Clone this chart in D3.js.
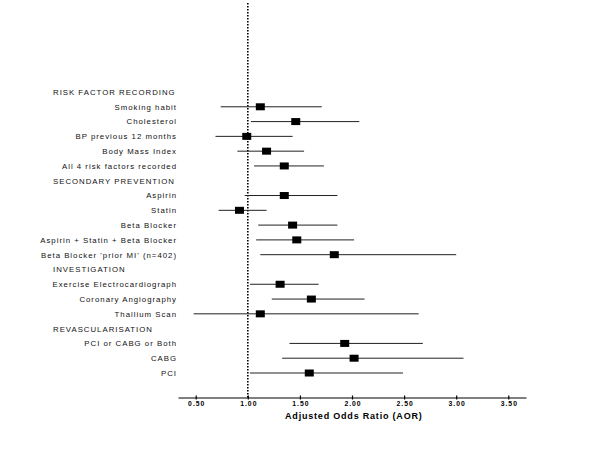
<!DOCTYPE html>
<html>
<head>
<meta charset="utf-8">
<script src="https://cdn.jsdelivr.net/npm/d3@7"></script>
<style>
  body { margin: 0; background: #fff; }
  text { font-family: "Liberation Sans", Arial, sans-serif; fill: #000; }
</style>
</head>
<body>
<svg id="chart" width="600" height="450"></svg>
<script>
// rows top to bottom; headers have no estimate
var labels = ['RISK FACTOR RECORDING', 'Smoking habit', 'Cholesterol', 'BP previous 12 months',
  'Body Mass Index', 'All 4 risk factors recorded', 'SECONDARY PREVENTION', 'Aspirin', 'Statin',
  'Beta Blocker', 'Aspirin + Statin + Beta Blocker', "Beta Blocker 'prior MI' (n=402)",
  'INVESTIGATION', 'Exercise Electrocardiograph', 'Coronary Angiography', 'Thallium Scan',
  'REVASCULARISATION', 'PCI or CABG or Both', 'CABG', 'PCI'];
var isHeader = [1,0,0,0,0,0,1,0,0,0,0,0,1,0,0,0,1,0,0,0];
var aor   = [null, 1.12, 1.46, 0.99, 1.18, 1.35, null, 1.35, 0.92, 1.43, 1.47, 1.83, null, 1.31, 1.61, 1.12, null, 1.93, 2.02, 1.59];
var lower = [null, 0.74, 1.03, 0.69, 0.90, 1.06, null, 0.97, 0.72, 1.10, 1.08, 1.12, null, 1.02, 1.23, 0.48, null, 1.40, 1.33, 1.02];
var upper = [null, 1.71, 2.07, 1.43, 1.54, 1.73, null, 1.86, 1.18, 1.86, 2.02, 3.00, null, 1.68, 2.12, 2.64, null, 2.68, 3.07, 2.49];
var ticks = [0.5, 1.0, 1.5, 2.0, 2.5, 3.0, 3.5];

var svg = d3.select('#chart');

var x = d3.scaleLinear().domain([0.33, 3.67]).range([178, 526]);
var y = d3.scalePoint().domain(d3.range(labels.length)).range([92, 373]);
var axisY = 397.5;

// label column (small wide-spaced text like the original export)
svg.selectAll('.lab')
  .data(labels)
  .enter().append('text')
  .attr('class', 'lab')
  .attr('x', function(d, i) { return isHeader[i] ? 53 : 177; })
  .attr('y', function(d, i) { return y(i) + 2.9; })
  .attr('text-anchor', function(d, i) { return isHeader[i] ? 'start' : 'end'; })
  .style('font-size', '7.8px')
  .style('letter-spacing', '1px')
  .style('fill', '#111')
  .text(function(d) { return d; });

// reference line at 1
svg.append('line')
  .attr('x1', x(1)).attr('x2', x(1))
  .attr('y1', 3).attr('y2', axisY)
  .attr('stroke', '#000')
  .attr('stroke-width', 1.6)
  .attr('stroke-dasharray', '1.5,1.5');

var rows = d3.range(labels.length).filter(function(i) { return !isHeader[i]; });

svg.selectAll('.ci')
  .data(rows)
  .enter().append('line')
  .attr('class', 'ci')
  .attr('x1', function(i) { return x(lower[i]); })
  .attr('x2', function(i) { return x(upper[i]); })
  .attr('y1', function(i) { return y(i); })
  .attr('y2', function(i) { return y(i); })
  .attr('stroke', '#222')
  .attr('stroke-width', 1);

svg.selectAll('.pt')
  .data(rows)
  .enter().append('rect')
  .attr('class', 'pt')
  .attr('x', function(i) { return x(aor[i]) - 4.5; })
  .attr('y', function(i) { return y(i) - 3.5; })
  .attr('width', 9)
  .attr('height', 7)
  .attr('fill', '#000');

// x axis
var axis = d3.axisBottom(x)
  .tickValues(ticks)
  .tickFormat(d3.format('.2f'))
  .tickSizeInner(2)
  .tickSizeOuter(0)
  .tickPadding(0);

var g = svg.append('g')
  .attr('transform', 'translate(0,' + axisY + ')')
  .call(axis);
g.select('.domain').attr('stroke', '#000').attr('stroke-width', 1.2);
g.selectAll('.tick line').attr('y1', -2).attr('stroke-width', 1.2);
g.selectAll('.tick text')
  .attr('y', 8.7)
  .attr('dy', null)
  .attr('dx', 0.5)
  .style('font-family', '"Liberation Sans", Arial, sans-serif')
  .style('font-size', '6.8px')
  .style('letter-spacing', '1px')
  .style('font-weight', 'bold');

svg.append('text')
  .attr('x', 353.8)
  .attr('y', 419)
  .attr('text-anchor', 'middle')
  .style('font-size', '9px')
  .style('letter-spacing', '0.8px')
  .style('font-weight', 'bold')
  .text('Adjusted Odds Ratio (AOR)');
</script>
</body>
</html>
